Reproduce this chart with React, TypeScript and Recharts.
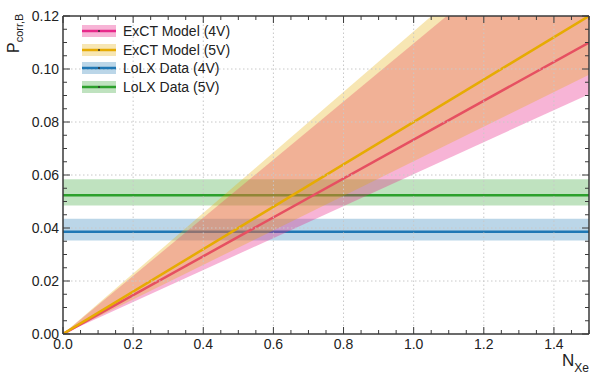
import React from "react"
import { ComposedChart, Area, XAxis, YAxis, ReferenceLine, Legend } from "recharts"

// N_Xe sample points (model curves are straight lines through the origin)
const xValues = [0, 1.5]

const exct4V = [0, 0.11]
const exct4VLow = [0, 0.0905]
const exct4VHigh = [0, 0.1645]

const exct5V = [0, 0.12]
const exct5VLow = [0, 0.0978]
const exct5VHigh = [0, 0.1713]

const lolx4V = [0.0386, 0.0386]
const lolx4VLow = [0.0353, 0.0353]
const lolx4VHigh = [0.0435, 0.0435]

const lolx5V = [0.0524, 0.0524]
const lolx5VLow = [0.0485, 0.0485]
const lolx5VHigh = [0.0584, 0.0584]

const xMajorTicks = [0, 0.2, 0.4, 0.6, 0.8, 1.0, 1.2, 1.4]
const yMajorTicks = [0, 0.02, 0.04, 0.06, 0.08, 0.1, 0.12]
const xAllTicks = Array.from({ length: 31 }, (_, i) => +(i * 0.05).toFixed(2))
const yAllTicks = Array.from({ length: 25 }, (_, i) => +(i * 0.005).toFixed(3))

const PINK = "#e7298a"
const YELLOW = "#e6ab02"
const BLUE = "#1f77b4"
const GREEN = "#2ca02c"
const FRAME = "#3a3a3a"
const FONT = "'Liberation Sans', Arial, sans-serif"

const data = xValues.map((x, i) => ({
  x,
  exct4V: exct4V[i],
  exct4VBand: [exct4VLow[i], exct4VHigh[i]],
  exct5V: exct5V[i],
  exct5VBand: [exct5VLow[i], exct5VHigh[i]],
  lolx4V: lolx4V[i],
  lolx4VBand: [lolx4VLow[i], lolx4VHigh[i]],
  lolx5V: lolx5V[i],
  lolx5VBand: [lolx5VLow[i], lolx5VHigh[i]],
}))

const legendItems = [
  { label: "ExCT Model (4V)", color: PINK, opacity: 0.35 },
  { label: "ExCT Model (5V)", color: YELLOW, opacity: 0.3 },
  { label: "LoLX Data (4V)", color: BLUE, opacity: 0.3 },
  { label: "LoLX Data (5V)", color: GREEN, opacity: 0.3 },
]

const isMajor = (v: number, step: number) => Math.abs(v / step - Math.round(v / step)) < 1e-6

const BottomTick = (props: any) => {
  const { x, y, payload } = props
  const major = isMajor(payload.value, 0.2)
  return (
    <g>
      <line x1={x} x2={x} y1={y} y2={y - (major ? 7 : 4)} stroke={FRAME} strokeWidth={1} />
      {major && (
        <text x={x} y={y + 15} textAnchor="middle" fontSize={14} fontFamily={FONT} fill="#222">
          {payload.value.toFixed(1)}
        </text>
      )}
    </g>
  )
}

const TopTick = (props: any) => {
  const { x, y, payload } = props
  const major = isMajor(payload.value, 0.2)
  return <line x1={x} x2={x} y1={y} y2={y + (major ? 7 : 4)} stroke={FRAME} strokeWidth={1} />
}

const LeftTick = (props: any) => {
  const { x, y, payload } = props
  const major = isMajor(payload.value, 0.02)
  return (
    <g>
      <line x1={x} x2={x + (major ? 7 : 4)} y1={y} y2={y} stroke={FRAME} strokeWidth={1} />
      {major && (
        <text x={x - 4} y={y + 5} textAnchor="end" fontSize={14} fontFamily={FONT} fill="#222">
          {payload.value.toFixed(2)}
        </text>
      )}
    </g>
  )
}

const RightTick = (props: any) => {
  const { x, y, payload } = props
  const major = isMajor(payload.value, 0.02)
  return <line x1={x} x2={x - (major ? 7 : 4)} y1={y} y2={y} stroke={FRAME} strokeWidth={1} />
}

const LegendBox = () => (
  <div style={{ fontFamily: FONT, fontSize: 14, color: "#222" }}>
    {legendItems.map((item) => (
      <div key={item.label} style={{ display: "flex", alignItems: "center", height: 18.5 }}>
        <svg width={34} height={12} style={{ display: "block" }}>
          <rect x={0} y={0} width={34} height={12} fill={item.color} fillOpacity={item.opacity} />
          <line x1={0} x2={34} y1={6} y2={6} stroke={item.color} strokeWidth={2.5} />
          <circle cx={17} cy={6} r={1} fill="#333" />
        </svg>
        <span style={{ marginLeft: 7, lineHeight: "18px" }}>{item.label}</span>
      </div>
    ))}
  </div>
)

const axisLine = { stroke: FRAME, strokeWidth: 1.5 }

// central values are drawn as stroke-only areas so that they keep their place in the drawing order
const series = [
  { band: "lolx4VBand", line: "lolx4V", color: BLUE, opacity: 0.3 },
  { band: "lolx5VBand", line: "lolx5V", color: GREEN, opacity: 0.3 },
  { band: "exct4VBand", line: "exct4V", color: PINK, opacity: 0.35 },
  { band: "exct5VBand", line: "exct5V", color: YELLOW, opacity: 0.3 },
]

export default function App() {
  return (
    <div style={{ position: "absolute", left: 0, top: 0, background: "#fff" }}>
      <ComposedChart width={590} height={374} data={data} margin={{ top: 0, right: 0, bottom: 0, left: 0 }}>
        <XAxis
          xAxisId="bottom"
          dataKey="x"
          type="number"
          domain={[0, 1.5]}
          allowDataOverflow
          ticks={xAllTicks}
          interval={0}
          tick={<BottomTick />}
          tickLine={false}
          tickSize={0}
          tickMargin={0}
          axisLine={axisLine}
          height={40}
          label={{
            content: () => (
              <text x={589} y={366} textAnchor="end" fontFamily={FONT} fill="#222">
                <tspan fontSize={17}>N</tspan>
                <tspan fontSize={12} dy={6}>Xe</tspan>
              </text>
            ),
          }}
        />
        <XAxis
          xAxisId="top"
          orientation="top"
          dataKey="x"
          type="number"
          domain={[0, 1.5]}
          allowDataOverflow
          ticks={xAllTicks}
          interval={0}
          tick={<TopTick />}
          tickLine={false}
          tickSize={0}
          tickMargin={0}
          axisLine={axisLine}
          height={16}
        />
        <YAxis
          yAxisId="left"
          type="number"
          domain={[0, 0.12]}
          allowDataOverflow
          ticks={yAllTicks}
          interval={0}
          tick={<LeftTick />}
          tickLine={false}
          tickSize={0}
          tickMargin={0}
          axisLine={axisLine}
          width={63}
          label={{
            content: () => (
              <text transform="translate(19,53) rotate(-90)" fontFamily={FONT} fill="#222">
                <tspan fontSize={16}>P</tspan>
                <tspan fontSize={11} dy={4}>corr,B</tspan>
              </text>
            ),
          }}
        />
        <YAxis
          yAxisId="right"
          orientation="right"
          type="number"
          domain={[0, 0.12]}
          allowDataOverflow
          ticks={yAllTicks}
          interval={0}
          tick={<RightTick />}
          tickLine={false}
          tickSize={0}
          tickMargin={0}
          axisLine={axisLine}
          width={1}
        />

        {xMajorTicks.slice(1).map((v) => (
          <ReferenceLine key={`gx-${v}`} xAxisId="bottom" yAxisId="left" x={v} stroke="#c8c8c8" strokeDasharray="1.5 2.5" />
        ))}
        {yMajorTicks.slice(1, -1).map((v) => (
          <ReferenceLine key={`gy-${v}`} xAxisId="bottom" yAxisId="left" y={v} stroke="#c8c8c8" strokeDasharray="1.5 2.5" />
        ))}

        {series.flatMap((s) => [
          <Area
            key={s.band}
            xAxisId="bottom"
            yAxisId="left"
            type="linear"
            dataKey={s.band}
            stroke="none"
            fill={s.color}
            fillOpacity={s.opacity}
            isAnimationActive={false}
          />,
          <Area
            key={s.line}
            xAxisId="bottom"
            yAxisId="left"
            type="linear"
            dataKey={s.line}
            stroke={s.color}
            strokeWidth={2.5}
            fill="none"
            fillOpacity={0}
            isAnimationActive={false}
          />,
        ])}

        <Legend
          layout="vertical"
          align="center"
          verticalAlign="middle"
          content={<LegendBox />}
          wrapperStyle={{ position: "absolute", left: 82, top: 22, width: "auto" }}
        />
      </ComposedChart>
    </div>
  )
}
